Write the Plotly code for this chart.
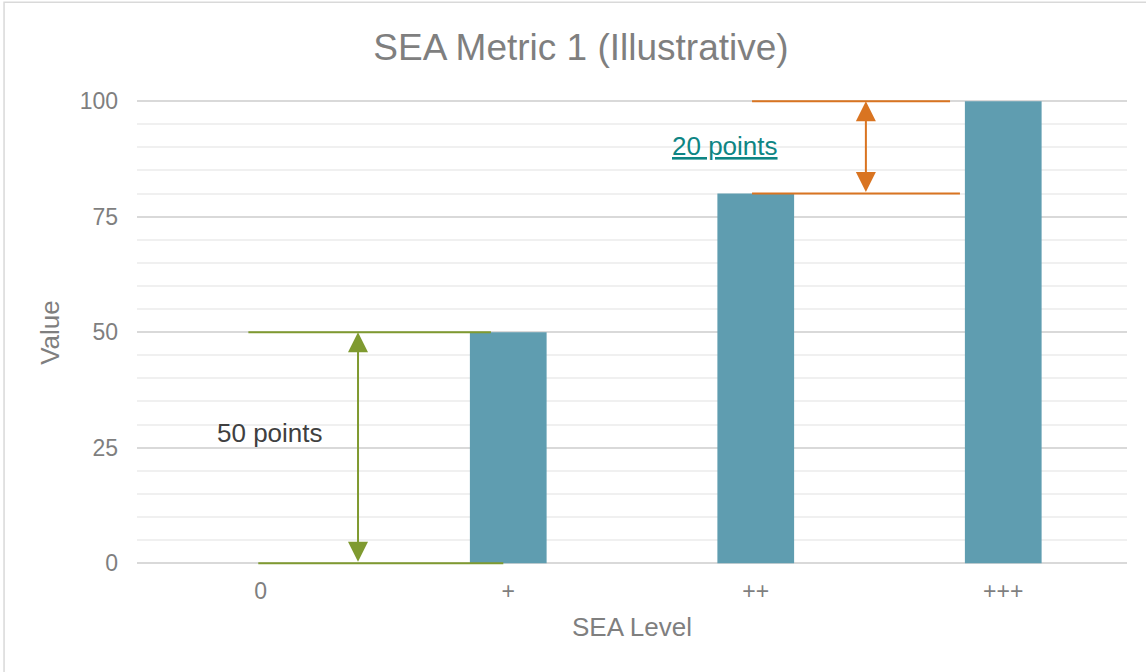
import plotly.graph_objects as go

# Chart data
categories = ["0", "+", "++", "+++"]
values = [0, 50, 80, 100]

# Bracket annotations: (from value, to value)
gap_low = (0, 50)
gap_high = (80, 100)

FONT = "Liberation Sans, Arial, sans-serif"
GRAY = "#7f7f7f"
BAR = "#5f9db0"
GREEN = "#7f9a30"
ORANGE = "#d97421"
TEAL = "#0e8584"

xpos = list(range(len(categories)))

fig = go.Figure()
fig.add_trace(go.Bar(
    x=xpos, y=values, width=0.31,
    marker=dict(color=BAR, line=dict(width=0)),
    showlegend=False, hoverinfo="x+y",
))

# Horizontal guide lines of the brackets
def hline(y, x0, x1, color):
    fig.add_shape(type="line", xref="x", yref="y", x0=x0, x1=x1, y0=y, y1=y,
                  line=dict(color=color, width=2))

hline(gap_low[0], -0.01, 0.98, GREEN)
hline(gap_low[1], -0.05, 0.93, GREEN)
hline(gap_high[0], 1.985, 2.825, ORANGE)
hline(gap_high[1], 1.985, 2.785, ORANGE)

# Double-headed arrows
def darrow(x, y0, y1, color):
    fig.add_annotation(x=x, y=y1, ax=x, ay=y0, xref="x", yref="y", axref="x", ayref="y",
                       text="", showarrow=True, arrowhead=2, startarrowhead=2,
                       arrowside="end+start", arrowsize=2, startarrowsize=2,
                       arrowwidth=2, arrowcolor=color, standoff=0, startstandoff=0)

darrow(0.393, gap_low[0], gap_low[1], GREEN)
darrow(2.445, gap_high[0], gap_high[1], ORANGE)

fig.add_annotation(x=0.037, y=28.1, xref="x", yref="y", showarrow=False,
                   text=f"{gap_low[1] - gap_low[0]} points",
                   font=dict(family=FONT, size=26, color="#404040"))
fig.add_annotation(x=1.876, y=90.3, xref="x", yref="y", showarrow=False,
                   text=f"<u>{gap_high[1] - gap_high[0]} points</u>",
                   font=dict(family=FONT, size=26, color=TEAL))

# Chart-area border
fig.add_shape(type="rect", xref="paper", yref="paper",
              x0=-0.1343, x1=1.03, y0=-0.26, y1=1.21,
              line=dict(color="#d9d9d9", width=1.5), layer="below")

fig.update_layout(
    width=1146, height=672,
    margin=dict(l=137, r=19, t=100, b=107),
    paper_bgcolor="white", plot_bgcolor="white",
    font=dict(family=FONT, color=GRAY),
    title=dict(text="SEA Metric 1 (Illustrative)", x=0.507, xref="container",
               xanchor="center", y=1 - 47 / 672, yref="container", yanchor="middle",
               font=dict(family=FONT, size=37, color=GRAY)),
    bargap=0.69,
)
fig.update_xaxes(
    range=[-0.5, 3.5], tickvals=xpos, ticktext=categories,
    showgrid=False, zeroline=False, showline=False, ticks="",
    tickfont=dict(family=FONT, size=23, color=GRAY),
    ticklabelstandoff=10,
    title=dict(text="SEA Level", font=dict(family=FONT, size=26, color=GRAY), standoff=14),
)
fig.update_yaxes(
    range=[-0.4, 100.25], tickvals=[0, 25, 50, 75, 100],
    showgrid=True, gridcolor="#d9d9d9", gridwidth=1.5,
    minor=dict(tickvals=list(range(5, 100, 5)), showgrid=True,
               gridcolor="#f0f0f0", gridwidth=1.5),
    zeroline=False, showline=False, ticks="",
    tickfont=dict(family=FONT, size=23, color=GRAY),
    ticklabelstandoff=18,
    title=dict(text="Value", font=dict(family=FONT, size=26, color=GRAY), standoff=12),
)

fig.write_html("out.html")
